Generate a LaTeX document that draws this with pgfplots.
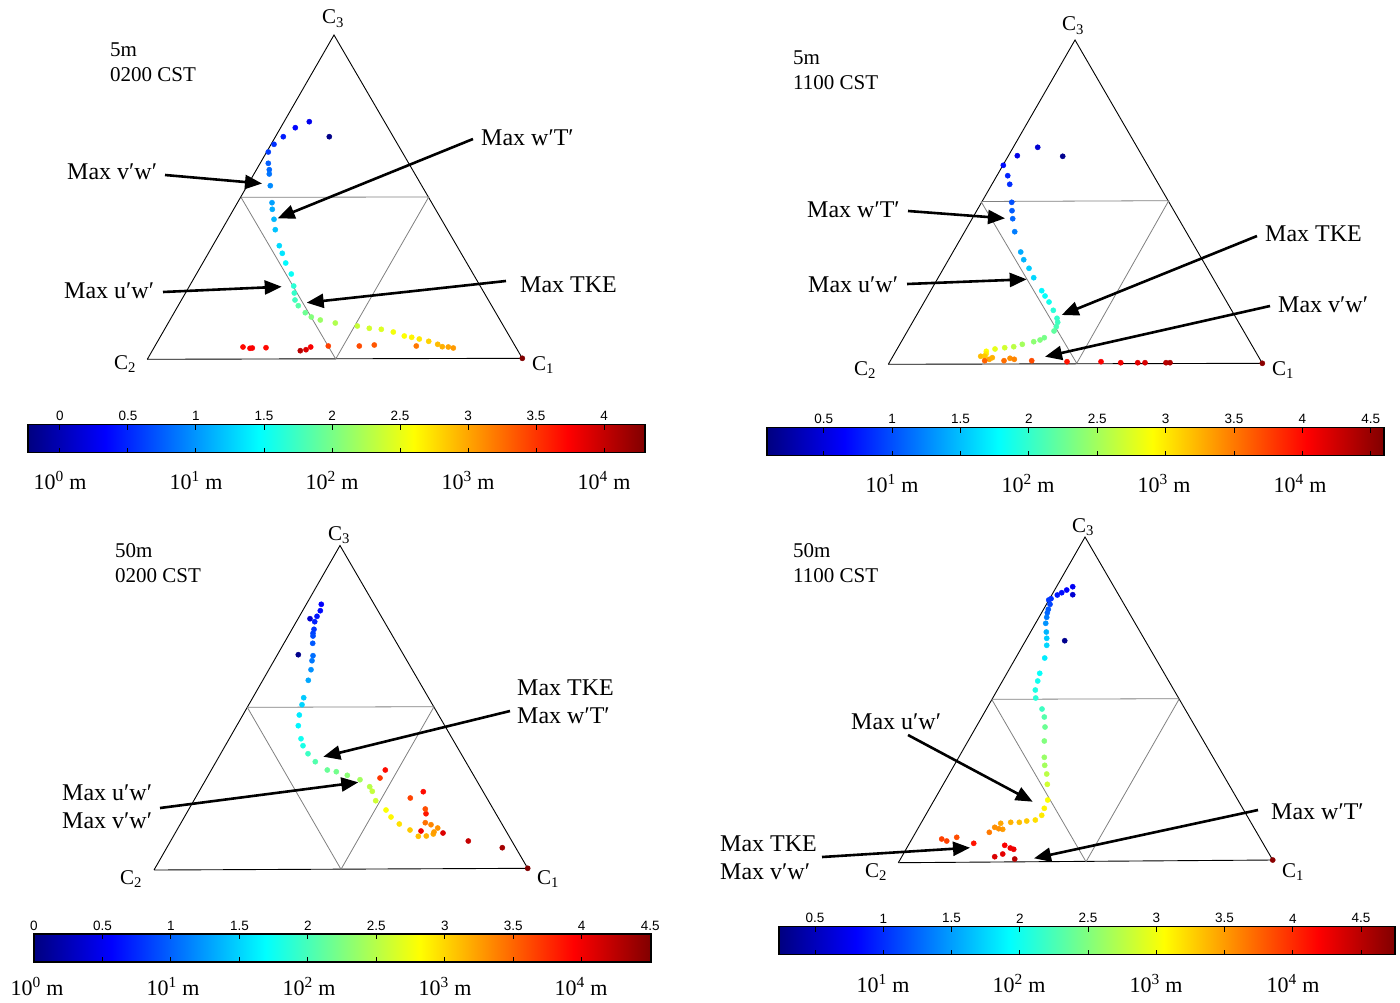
\documentclass[border=0pt]{standalone}
\usepackage{fontspec}
\setmainfont{Liberation Serif}
\setsansfont{Liberation Sans}
\usepackage{pgfplots}
\pgfplotsset{compat=1.18}
\usetikzlibrary{arrows.meta}
\newcommand\lbl{\fontsize{24}{28}\selectfont}
\newcommand\smallt{\fontsize{21}{24}\selectfont}
\newcommand\cl{\fontsize{21}{22}\selectfont}
\newcommand\tp[1]{\fontsize{22}{26}\selectfont 10\textsuperscript{#1} m}
\tikzset{arr/.style={-{Triangle[length=17pt,width=14pt]}, line width=2.6pt, black}}
\pgfplotsset{
  panel/.style={at={(0,0)}, anchor=south west, scale only axis, width=1400pt, height=1002pt,
    xmin=0, xmax=1400, ymin=0, ymax=1002, y dir=reverse, hide axis, clip=false,
    colormap/jet, colorbar horizontal, colorbar/width=28pt},
  cbar/.style={scale only axis, width=617pt, anchor=north west, y dir=normal, axis on top,
    xtick pos=both, xticklabel pos=upper, xtick align=inside,
    major tick length=5pt, every tick/.style={black, line width=1pt},
    axis line style={line width=1.6pt, black},
    xticklabel style={font=\sffamily\fontsize{13.5}{13.5}\selectfont, /pgf/number format/assume math mode=true}},
  pts/.style={scatter, only marks, mark=*, mark size=2.6pt, scatter src=explicit,
    scatter/use mapped color={draw=mapped color, fill=mapped color}},
  outer/.style={black, line width=0.9pt},
  inner/.style={gray, line width=0.8pt}
}
\begin{document}
\begin{tikzpicture}
% ---------------- Panel 1 ----------------
\begin{axis}[panel, point meta min=-0.235, point meta max=4.301,
  colorbar style={cbar, at={(28pt,586pt)}, xtick={0,0.5,...,4}}]
\addplot[outer] coordinates {(147.3,359.3) (522.3,358.3) (334,35) (147.3,359.3)};
\addplot[inner] coordinates {(241,197.3) (428.7,197) (335.7,359) (241,197.3)};
\addplot[pts] table[meta=c] {
x y c
329.3 136.7 -0.2
309.3 121.7 0.25
295.3 127.7 0.35
283.3 136.7 0.45
274.0 144.3 0.55
268.3 152.0 0.6
268.3 163.3 0.75
269.3 169.7 0.8
269.3 174.0 0.85
270.3 185.7 0.95
272.0 202.7 1.05
272.3 209.3 1.1
274.0 219.3 1.15
275.3 229.7 1.2
279.3 245.7 1.3
282.3 253.3 1.35
285.7 263.0 1.45
291.3 274.0 1.5
293.7 286.0 1.65
294.3 293.0 1.7
295.0 300.0 1.75
298.3 305.7 1.85
305.3 312.7 1.95
311.3 317.0 2.05
320.3 320.0 2.15
335.3 323.0 2.25
357.3 326.0 2.35
369.3 328.3 2.4
381.3 329.3 2.45
393.3 332.0 2.55
404.3 336.0 2.6
411.7 337.3 2.65
419.3 339.0 2.7
428.7 341.3 2.8
437.7 344.3 2.9
442.3 346.7 2.95
448.3 347.0 3.0
453.3 348.0 3.05
416.3 346.0 3.2
374.3 345.0 3.35
359.3 346.0 3.4
328.3 346.0 3.45
310.7 347.0 3.75
306.0 349.7 3.9
300.3 350.7 4.05
266.0 347.7 3.7
252.3 348.0 3.75
250.0 348.3 3.75
243.0 347.0 3.7
522.3 358.3 4.3
};
\node[anchor=base] at (333,24) {\cl C\textsubscript{3}};
\node[anchor=base] at (125,369) {\cl C\textsubscript{2}};
\node[anchor=base] at (543,370) {\cl C\textsubscript{1}};
\node[anchor=base west, inner sep=0] at (110,57) {\smallt 5m};
\node[anchor=base west, inner sep=0] at (110,82) {\smallt 0200 CST};
\node[anchor=west, inner sep=0] at (67,172) {\lbl Max v′w′};
\node[anchor=west, inner sep=0] at (481,138) {\lbl Max w′T′};
\node[anchor=west, inner sep=0] at (64,291) {\lbl Max u′w′};
\node[anchor=west, inner sep=0] at (520,285) {\lbl Max TKE};
\draw[arr] (165,175) -- (262,183.5);
\draw[arr] (473,139) -- (277.7,218.3);
\draw[arr] (163,292) -- (281.7,286.7);
\draw[arr] (506,281) -- (306.7,302.7);
\node[anchor=base] at (60,489) {\tp{0}};
\node[anchor=base] at (196,489) {\tp{1}};
\node[anchor=base] at (332,489) {\tp{2}};
\node[anchor=base] at (468,489) {\tp{3}};
\node[anchor=base] at (604,489) {\tp{4}};
\end{axis}
% ---------------- Panel 2 ----------------
\begin{axis}[panel, point meta min=0.085, point meta max=4.597,
  colorbar style={cbar, at={(767pt,583pt)}, xtick={0.5,1,...,4.5}}]
\addplot[outer] coordinates {(888.3,364.3) (1262.3,363.3) (1075,40) (888.3,364.3)};
\addplot[inner] coordinates {(981,201.5) (1168.7,200.7) (1076.7,363.3) (981,201.5)};
\addplot[pts] table[meta=c] {
x y c
1062.7 156.3 0.15
1037.7 147.3 0.45
1017.3 155.7 0.55
1003.3 165.3 0.7
1007.7 175.7 0.8
1009.7 184.3 0.85
1011.7 202.3 1.0
1012.0 210.7 1.05
1012.7 218.7 1.1
1014.7 231.7 1.2
1020.7 252.0 1.4
1023.7 259.7 1.45
1029.0 268.3 1.55
1033.7 277.7 1.6
1041.7 290.7 1.75
1045.0 296.0 1.8
1049.0 302.0 1.85
1053.3 310.3 1.95
1057.0 318.3 2.0
1057.7 322.3 2.05
1056.3 326.7 2.1
1054.0 331.0 2.2
1044.3 337.7 2.3
1040.0 340.0 2.35
1033.7 341.7 2.4
1022.3 344.3 2.5
1013.7 346.7 2.6
1004.7 347.7 2.7
995.0 349.0 2.8
986.3 351.3 2.9
986.0 354.0 3.0
980.7 356.3 3.2
984.7 356.3 3.15
989.3 359.3 3.3
992.3 357.7 3.25
984.7 360.7 3.6
1004.0 360.7 3.55
1010.0 358.3 3.4
1014.3 359.3 3.45
1031.7 360.7 3.7
1067.0 361.7 3.95
1101.0 361.7 4.05
1120.7 362.7 4.1
1137.7 362.7 4.15
1145.0 362.7 4.2
1166.0 362.7 4.35
1170.0 362.7 4.4
1262.3 363.3 4.55
};
\node[anchor=base] at (1073,31) {\cl C\textsubscript{3}};
\node[anchor=base] at (865,375) {\cl C\textsubscript{2}};
\node[anchor=base] at (1283,375) {\cl C\textsubscript{1}};
\node[anchor=base west, inner sep=0] at (793,65) {\smallt 5m};
\node[anchor=base west, inner sep=0] at (793,90) {\smallt 1100 CST};
\node[anchor=west, inner sep=0] at (807,210) {\lbl Max w′T′};
\node[anchor=west, inner sep=0] at (808,285) {\lbl Max u′w′};
\node[anchor=west, inner sep=0] at (1265,234) {\lbl Max TKE};
\node[anchor=west, inner sep=0] at (1278,305) {\lbl Max v′w′};
\draw[arr] (908,211) -- (1005,218.3);
\draw[arr] (907,284) -- (1026.7,279.3);
\draw[arr] (1257,236) -- (1061.7,315);
\draw[arr] (1270,306) -- (1045,356.7);
\node[anchor=base] at (892,492) {\tp{1}};
\node[anchor=base] at (1028,492) {\tp{2}};
\node[anchor=base] at (1164,492) {\tp{3}};
\node[anchor=base] at (1300,492) {\tp{4}};
\end{axis}
% ---------------- Panel 3 ----------------
\begin{axis}[panel, point meta min=0, point meta max=4.506,
  colorbar style={cbar, at={(34pt,76.5pt)}, xtick={0,0.5,...,4.5}}]
\addplot[outer] coordinates {(154,870) (527.7,868.3) (340,545.5) (154,870)};
\addplot[inner] coordinates {(247.3,707.3) (434,706.7) (341,869.3) (247.3,707.3)};
\addplot[pts] table[meta=c] {
x y c
298.3 654.7 0.05
310.0 618.7 0.35
321.3 604.3 0.55
320.3 610.7 0.6
317.0 616.3 0.65
314.7 621.7 0.7
314.0 629.3 0.8
313.0 633.3 0.85
313.0 636.0 0.9
312.7 643.3 0.95
313.0 655.7 1.05
312.0 660.7 1.1
311.0 669.7 1.2
308.3 680.3 1.3
303.7 697.7 1.45
302.0 704.7 1.5
299.3 715.0 1.6
298.3 725.7 1.65
301.0 738.7 1.75
303.0 745.7 1.8
308.0 753.7 1.95
315.3 761.7 2.05
327.3 770.0 2.15
336.3 771.7 2.2
347.3 775.3 2.3
360.0 779.7 2.4
369.7 786.7 2.5
372.3 791.3 2.55
375.7 800.7 2.6
386.0 810.0 2.8
391.0 817.0 2.85
399.3 824.0 2.95
410.0 830.0 3.05
418.3 836.3 3.1
426.3 836.0 3.15
433.3 834.0 3.2
434.0 832.0 3.25
437.7 828.0 3.3
431.0 824.7 3.35
425.3 822.7 3.45
421.0 831.0 4.0
443.0 833.0 4.1
426.0 813.7 3.85
425.3 809.0 3.6
410.3 798.0 3.65
423.3 791.7 3.9
380.0 778.0 3.7
385.3 770.0 3.9
468.3 841.0 4.2
502.3 847.7 4.35
527.7 868.3 4.5
};
\node[anchor=base] at (339,540) {\cl C\textsubscript{3}};
\node[anchor=base] at (131,884) {\cl C\textsubscript{2}};
\node[anchor=base] at (548,884) {\cl C\textsubscript{1}};
\node[anchor=base west, inner sep=0] at (115,557) {\smallt 50m};
\node[anchor=base west, inner sep=0] at (115,582) {\smallt 0200 CST};
\node[anchor=west, inner sep=0, align=left, font=\lbl] at (517,702) {Max TKE\\Max w′T′};
\node[anchor=west, inner sep=0, align=left, font=\lbl] at (62,807) {Max u′w′\\Max v′w′};
\draw[arr] (510,711) -- (323.3,756.7);
\draw[arr] (160,808) -- (358.3,782.3);
\node[anchor=base] at (37,995) {\tp{0}};
\node[anchor=base] at (173,995) {\tp{1}};
\node[anchor=base] at (309,995) {\tp{2}};
\node[anchor=base] at (445,995) {\tp{3}};
\node[anchor=base] at (581,995) {\tp{4}};
\end{axis}
% ---------------- Panel 4 ----------------
\begin{axis}[panel, point meta min=0.236, point meta max=4.749,
  colorbar style={cbar, at={(779pt,84pt)}, width=616pt, xtick={0.5,1,...,4.5}}]
\addplot[outer] coordinates {(898.3,862.7) (1272.7,860) (1085,537) (898.3,862.7)};
\addplot[inner] coordinates {(991.7,699.3) (1179.3,698.7) (1086,861.7) (991.7,699.3)};
\addplot[pts] table[meta=c] {
x y c
1064.7 640.7 0.3
1072.7 594.7 0.6
1072.7 586.7 0.75
1066.7 590.0 0.8
1061.7 592.7 0.85
1057.3 595.0 0.9
1051.0 598.7 1.0
1048.7 600.0 1.05
1050.0 604.3 1.1
1048.3 609.3 1.2
1047.3 612.7 1.25
1046.7 617.3 1.35
1045.7 623.3 1.45
1046.3 632.0 1.6
1046.7 638.3 1.7
1046.7 645.3 1.75
1044.7 658.0 1.85
1039.7 673.3 1.95
1037.7 681.0 2.0
1035.3 690.0 2.05
1035.7 698.0 2.1
1042.0 709.0 2.2
1044.3 717.0 2.3
1045.0 727.0 2.4
1044.3 741.0 2.5
1044.3 757.3 2.6
1044.7 765.3 2.65
1046.7 774.0 2.75
1047.3 784.3 2.85
1047.7 800.0 3.05
1044.3 808.3 3.1
1041.7 815.3 3.15
1035.3 820.0 3.2
1026.7 821.0 3.3
1019.3 822.3 3.35
1010.7 822.3 3.4
1000.7 823.3 3.45
1002.7 829.3 3.5
998.7 828.7 3.55
994.7 827.3 3.55
989.3 832.3 3.65
956.7 837.3 3.85
946.7 841.0 3.9
941.7 839.0 3.9
973.7 843.3 4.1
1004.7 845.3 4.2
1010.3 848.0 4.25
1013.7 849.3 4.25
1002.7 854.0 4.3
994.7 856.7 4.35
1014.7 859.0 4.5
1272.7 860.0 4.7
};
\node[anchor=base] at (1083,532) {\cl C\textsubscript{3}};
\node[anchor=base] at (876,877) {\cl C\textsubscript{2}};
\node[anchor=base] at (1293,877) {\cl C\textsubscript{1}};
\node[anchor=base west, inner sep=0] at (793,557) {\smallt 50m};
\node[anchor=base west, inner sep=0] at (793,582) {\smallt 1100 CST};
\node[anchor=west, inner sep=0] at (851,722) {\lbl Max u′w′};
\node[anchor=west, inner sep=0] at (1271,812) {\lbl Max w′T′};
\node[anchor=west, inner sep=0, align=left, font=\lbl] at (720,858) {Max TKE\\Max v′w′};
\draw[arr] (908,735) -- (1032.7,801.7);
\draw[arr] (1258,810) -- (1034,858.3);
\draw[arr] (822,857) -- (970,847.7);
\node[anchor=base] at (883,992) {\tp{1}};
\node[anchor=base] at (1019,992) {\tp{2}};
\node[anchor=base] at (1156,992) {\tp{3}};
\node[anchor=base] at (1293,992) {\tp{4}};
\end{axis}
\pgfresetboundingbox
\useasboundingbox (0,0) rectangle (1400pt,1002pt);
\end{tikzpicture}
\end{document}
